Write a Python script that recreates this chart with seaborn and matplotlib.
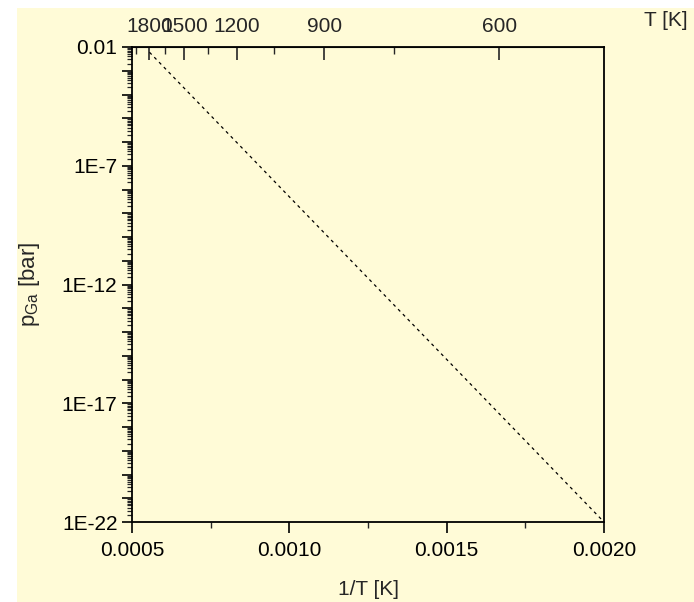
import numpy as np
import pandas as pd
import matplotlib
matplotlib.use("Agg")
import matplotlib.pyplot as plt
import matplotlib.ticker as mticker
from matplotlib.patches import Rectangle
import seaborn as sns

# vapour pressure line
temps = [1800, 500]          # T [K]
p_ga = [6e-3, 1e-22]         # p_Ga [bar]

top_major = [1800, 1500, 1200, 900, 600]
top_minor = [1950, 1650, 1350, 1050, 750]

bg = '#fffbd7'

sns.set_style("ticks")
plt.rcParams['font.family'] = ['Liberation Sans', 'DejaVu Sans']
plt.rcParams['mathtext.fontset'] = 'custom'
plt.rcParams['mathtext.rm'] = 'Liberation Sans'
plt.rcParams['mathtext.it'] = 'Liberation Sans'

df = pd.DataFrame({'invT': 1.0 / np.array(temps, dtype=float), 'p': p_ga})

fig = plt.figure(figsize=(6.94, 6.02), dpi=100)
fig.patch.set_facecolor('white')
fig.patches.append(Rectangle((17 / 694, 0), 1, (602 - 8) / 602, transform=fig.transFigure,
                             facecolor=bg, edgecolor='none', zorder=-10))
ax = fig.add_axes([132 / 694, 1 - 522 / 602, 472 / 694, 475 / 602])
ax.set_facecolor(bg)
ax.set_yscale('log')

sns.lineplot(data=df, x='invT', y='p', ax=ax, color='black', lw=0.9,
             linestyle=(0, (2.5, 3)))

ax.set_xlim(0.0005, 0.0020)
ax.set_ylim(1e-22, 1e-2)

ax.xaxis.set_major_locator(mticker.MultipleLocator(0.0005))
ax.xaxis.set_minor_locator(mticker.MultipleLocator(0.00025))
ax.xaxis.set_major_formatter(mticker.FormatStrFormatter('%.4f'))

ax.yaxis.set_major_locator(mticker.LogLocator(base=10, numticks=30))
ax.yaxis.set_minor_locator(mticker.LogLocator(base=10, subs=np.arange(2, 10), numticks=30))
def ylab(v, pos):
    e = int(round(np.log10(v)))
    if (e + 2) % 5 != 0:
        return ''
    if e == -2:
        return '0.01'
    return '1E%d' % e
ax.yaxis.set_major_formatter(mticker.FuncFormatter(ylab))
ax.yaxis.set_minor_formatter(mticker.NullFormatter())

for s in ax.spines.values():
    s.set_visible(True)
    s.set_linewidth(1.3)
    s.set_color('black')

ax.tick_params(axis='both', which='major', direction='out', length=8, width=1.2,
               labelsize=15, colors='black')
ax.tick_params(axis='both', which='minor', direction='out', length=4, width=1.0)
ax.tick_params(axis='y', which='major', length=7)
ax.tick_params(axis='y', which='minor', length=3.5, width=0.9)
ax.tick_params(axis='x', which='major', pad=6)

ax.set_xlabel('1/T [K]', fontsize=15, labelpad=14)
ax.set_ylabel(r'p$_{\mathrm{Ga}}$ [bar]', fontsize=16, labelpad=14)

sec = ax.secondary_xaxis('top', functions=(lambda x: 1.0 / np.where(x == 0, 1e-12, x),
                                           lambda t: 1.0 / np.where(t == 0, 1e-12, t)))
sec.set_xticks(top_major)
sec.set_xticks(top_minor, minor=True)
sec.xaxis.set_major_formatter(mticker.FormatStrFormatter('%d'))
sec.tick_params(which='major', direction='in', length=9, width=1.2, labelsize=15, pad=8)
sec.tick_params(which='minor', direction='in', length=5, width=1.0)
fig.text(666 / 694, 1 - 20 / 602, 'T [K]', fontsize=15, ha='center', va='center')

fig.savefig('out.png', dpi=100, facecolor=fig.get_facecolor())
